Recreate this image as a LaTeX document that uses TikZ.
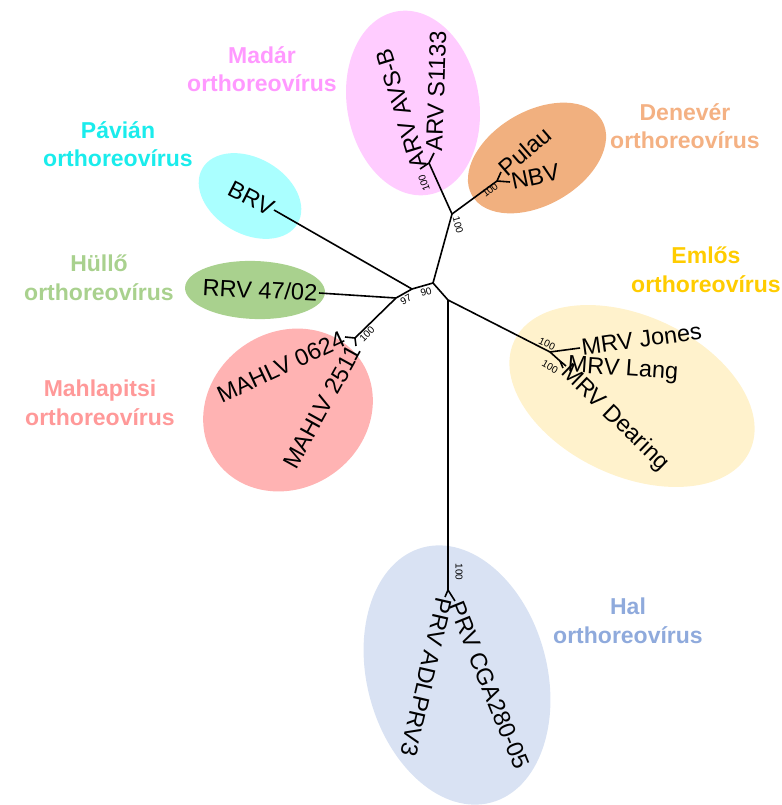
\documentclass[tikz,border=0pt]{standalone}
\usepackage{fontspec}
\setmainfont{Liberation Sans}
\definecolor{madarT}{HTML}{FF99FF}\definecolor{madarE}{HTML}{FFCCFF}
\definecolor{deneverT}{HTML}{F4B183}\definecolor{deneverE}{HTML}{F1B07F}
\definecolor{pavianT}{HTML}{1AECEC}\definecolor{pavianE}{HTML}{AAFFFF}
\definecolor{hulloT}{HTML}{A9D18E}\definecolor{hulloE}{HTML}{A9D18E}
\definecolor{mahlT}{HTML}{FF9999}\definecolor{mahlE}{HTML}{FFB3B3}
\definecolor{emlosT}{HTML}{FFCC00}\definecolor{emlosE}{HTML}{FFF2CC}
\definecolor{halT}{HTML}{8FAADC}\definecolor{halE}{HTML}{D9E2F3}
\tikzset{
  leaf/.style={inner sep=1.5pt, font=\fontsize{23.5}{27}\selectfont},
  bs/.style={inner sep=0pt, font=\fontsize{10}{11}\selectfont},
  grp/.style={align=center, inner sep=0pt, font=\fontsize{23}{28.5}\selectfont\bfseries},
  edge/.style={draw=black, line width=1.6pt}
}
\begin{document}
\begin{tikzpicture}[x=1pt,y=1pt]
\useasboundingbox (0,0) rectangle (781,-805);
% group ellipses
\fill[madarE, shift={(413,-103)}, rotate=10] (0,0) ellipse [x radius=66pt, y radius=93pt];
\fill[deneverE, shift={(537,-158)}, rotate=30] (0,0) ellipse [x radius=75pt, y radius=47pt];
\fill[pavianE, shift={(250,-196)}, rotate=-30] (0,0) ellipse [x radius=55pt, y radius=38pt];
\fill[hulloE, shift={(255,-290)}, rotate=-2] (0,0) ellipse [x radius=70pt, y radius=29pt];
\fill[mahlE, shift={(288,-410)}, rotate=35] (0,0) ellipse [x radius=88pt, y radius=78pt];
\fill[emlosE, shift={(632,-396)}, rotate=-25] (0,0) ellipse [x radius=130pt, y radius=80pt];
\fill[halE, shift={(457,-675)}, rotate=15] (0,0) ellipse [x radius=90pt, y radius=132pt];
% inner nodes
\coordinate (A) at (433,-283);
\coordinate (B) at (412,-289);
\coordinate (E) at (396,-298);
\coordinate (Q) at (355,-338);
\coordinate (F) at (452,-214);
\coordinate (H) at (429,-163);
\coordinate (G) at (497,-181);
\coordinate (D) at (448,-300);
\coordinate (M) at (550,-352);
\coordinate (N) at (560,-361);
\coordinate (P) at (448,-590);
% leaves
\coordinate (lBRV) at (274,-210);
\coordinate (lRRV) at (319,-293);
\coordinate (l0624) at (345,-337);
\coordinate (l2511) at (356,-346);
\coordinate (lAVSB) at (420,-169);
\coordinate (lS1133) at (434,-153);
\coordinate (lPulau) at (501,-172);
\coordinate (lNBV) at (510,-182);
\coordinate (lJones) at (580,-348);
\coordinate (lLang) at (566,-366);
\coordinate (lDearing) at (563,-368);
\coordinate (lADL) at (445,-597);
\coordinate (lCGA) at (455,-601);
% edges
\draw[edge] (A) -- (B);
\draw[edge] (B) -- (E);
\draw[edge] (B) -- (lBRV);
\draw[edge] (E) -- (lRRV);
\draw[edge] (E) -- (Q);
\draw[edge] (Q) -- (l0624);
\draw[edge] (Q) -- (l2511);
\draw[edge] (A) -- (F);
\draw[edge] (F) -- (H);
\draw[edge] (H) -- (lAVSB);
\draw[edge] (H) -- (lS1133);
\draw[edge] (F) -- (G);
\draw[edge] (G) -- (lPulau);
\draw[edge] (G) -- (lNBV);
\draw[edge] (A) -- (D);
\draw[edge] (D) -- (M);
\draw[edge] (M) -- (lJones);
\draw[edge] (M) -- (N);
\draw[edge] (N) -- (lLang);
\draw[edge] (N) -- (lDearing);
\draw[edge] (D) -- (P);
\draw[edge] (P) -- (lADL);
\draw[edge] (P) -- (lCGA);
% leaf labels
\node[leaf, anchor=east, rotate=-27] (tBRV) at (lBRV) {BRV};
\node[leaf, anchor=east, rotate=-3] (tRRV) at (lRRV) {RRV 47/02};
\node[leaf, anchor=east, rotate=25] (t0624) at (l0624) {MAHLV 0624};
\node[leaf, anchor=east, rotate=61] (t2511) at (l2511) {MAHLV 2511};
\node[leaf, anchor=west, rotate=107] (tAVSB) at (lAVSB) {ARV AVS-B};
\node[leaf, anchor=west, rotate=88] (tS1133) at (lS1133) {ARV S1133};
\node[leaf, anchor=west, rotate=41] (tPulau) at (lPulau) {Pulau};
\node[leaf, anchor=west, rotate=12] (tNBV) at (lNBV) {NBV};
\node[leaf, anchor=west, rotate=8] (tJones) at (lJones) {MRV Jones};
\node[leaf, anchor=west, rotate=-4] (tLang) at (lLang) {MRV Lang};
\node[leaf, anchor=west, rotate=-44] (tDearing) at (lDearing) {MRV Dearing};
\node[leaf, anchor=west, rotate=-103] (tADL) at (lADL) {PRV ADLPRV3};
\node[leaf, anchor=west, rotate=-68] (tCGA) at (lCGA) {PRV CGA280-05};
% bootstrap values
\node[bs, rotate=15] (b90) at (426,-292) {90};
\node[bs, rotate=30] (b97) at (406,-300) {97};
\node[bs, rotate=-75] (bF) at (458,-225) {100};
\node[bs, rotate=110] (bH) at (424,-183) {100};
\node[bs, rotate=38] (bG) at (490,-190) {100};
\node[bs, rotate=45] (bQ) at (367,-334) {100};
\node[bs, rotate=-25] (bM) at (547,-344) {100};
\node[bs, rotate=-30] (bN) at (550,-367) {100};
\node[bs, rotate=-90] (bP) at (459,-572) {100};
% group labels
\node[grp, text=madarT] (gMadar) at (262,-69) {Madár\\orthoreovírus};
\node[grp, text=pavianT] (gPavian) at (118,-144) {Pávián\\orthoreovírus};
\node[grp, text=hulloT] (gHullo) at (99,-278) {Hüllő\\orthoreovírus};
\node[grp, text=mahlT] (gMahl) at (100,-403) {Mahlapitsi\\orthoreovírus};
\node[grp, text=deneverT] (gDenever) at (685,-126) {Denevér\\orthoreovírus};
\node[grp, text=emlosT] (gEmlos) at (706,-270) {Emlős\\orthoreovírus};
\node[grp, text=halT] (gHal) at (628,-621) {Hal\\orthoreovírus};
\end{tikzpicture}
\end{document}
